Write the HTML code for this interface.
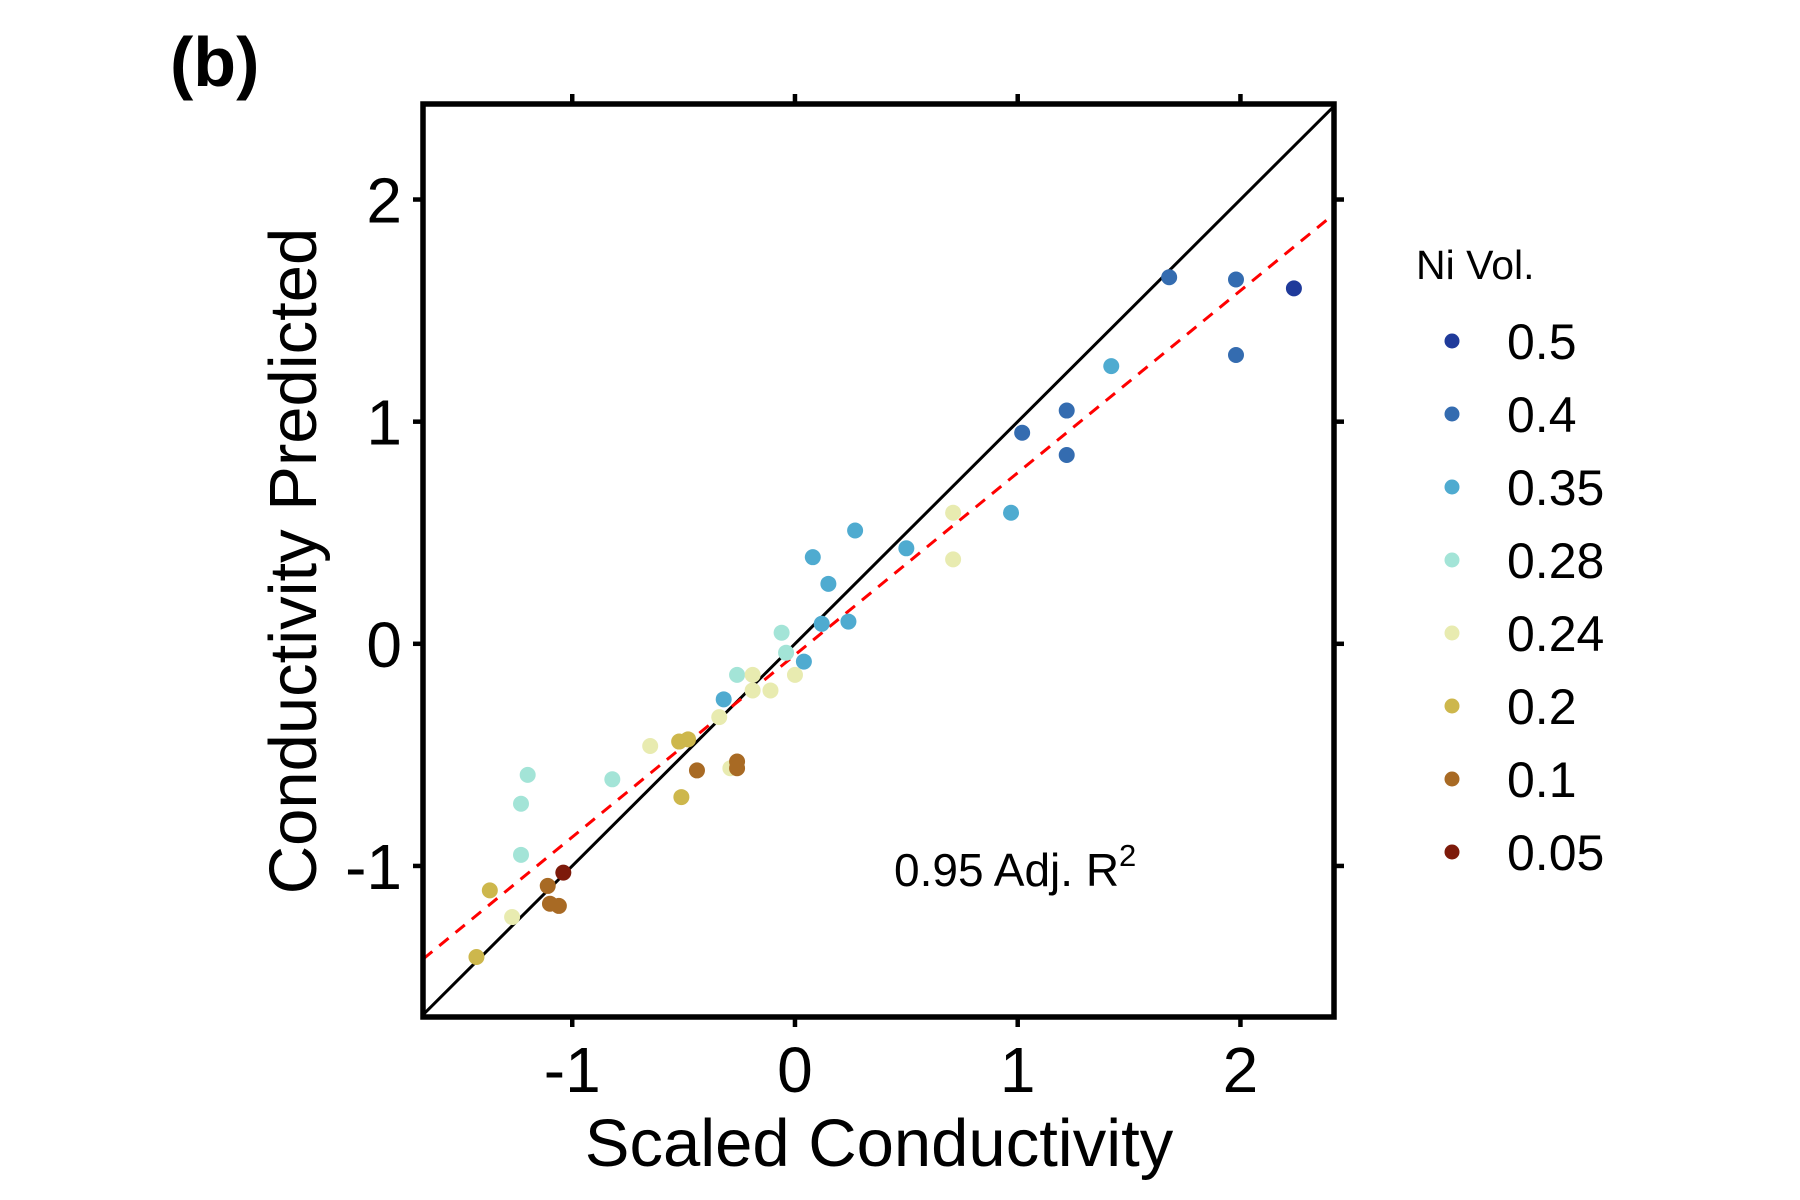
<!DOCTYPE html>
<html><head><meta charset="utf-8"><style>
html,body{margin:0;padding:0;background:#fff}
svg{display:block;font-family:"Liberation Sans",Arial,sans-serif}
</style></head><body>
<svg id="chart" width="1800" height="1200" viewBox="0 0 1800 1200">
<text x="170" y="86" font-size="70" font-weight="bold">(b)</text>
<g id="plot"></g>
<g id="legend"></g>
</svg>
<script>
const groups = ["0.5","0.4","0.35","0.28","0.24","0.2","0.1","0.05"];
const colors = ["#1f3a9a","#346cb0","#4fabd0","#a3e4d7","#e8ebb0","#cdb74c","#a86a24","#7d1a0a"];
const xs = [
 [2.24],
 [1.68,1.98,1.98,1.22,1.22,1.02],
 [1.42,0.97,0.50,0.27,0.08,0.15,0.12,0.24,0.04,-0.32],
 [-0.06,-0.04,-0.26,-0.82,-1.20,-1.23,-1.23],
 [0.71,0.71,0,-0.11,-0.19,-0.19,-0.34,-0.65,-0.29,-1.27],
 [-0.48,-0.52,-0.51,-1.37,-1.43],
 [-0.26,-0.26,-0.44,-1.11,-1.10,-1.06],
 [-1.04]
];
const ys = [
 [1.60],
 [1.65,1.64,1.30,1.05,0.85,0.95],
 [1.25,0.59,0.43,0.51,0.39,0.27,0.09,0.10,-0.08,-0.25],
 [0.05,-0.04,-0.14,-0.61,-0.59,-0.72,-0.95],
 [0.59,0.38,-0.14,-0.21,-0.14,-0.21,-0.33,-0.46,-0.56,-1.23],
 [-0.43,-0.44,-0.69,-1.11,-1.41],
 [-0.53,-0.56,-0.57,-1.09,-1.17,-1.18],
 [-1.03]
];
const xTicks = [-1,0,1,2];
const yTicks = [-1,0,1,2];
const fitSlope = 0.82, fitIntercept = -0.05;
const xDomain = [-1.67, 2.42], yDomain = [-1.68, 2.43];

const L=423,R=1334,T=104,B=1017;
const sx = v => L + (v - xDomain[0]) / (xDomain[1]-xDomain[0]) * (R-L);
const sy = v => B - (v - yDomain[0]) / (yDomain[1]-yDomain[0]) * (B-T);
const NS="http://www.w3.org/2000/svg";
function mk(tag, attrs, parent){const e=document.createElementNS(NS,tag);for(const k in attrs)e.setAttribute(k,attrs[k]);parent.appendChild(e);return e;}
const plot=document.getElementById('plot');

let lo=Math.max(xDomain[0],yDomain[0]), hi=Math.min(xDomain[1],yDomain[1]);
let idl=mk('line',{x1:sx(lo),y1:sy(lo),x2:sx(hi),y2:sy(hi),stroke:'#000','stroke-width':3},plot);


let fl=mk('line',{x1:sx(xDomain[0]),y1:sy(fitSlope*xDomain[0]+fitIntercept),x2:sx(xDomain[1]),y2:sy(fitSlope*xDomain[1]+fitIntercept),stroke:'#ff0000','stroke-width':3,'stroke-dasharray':'12 9'},plot);



groups.forEach((g,gi)=>{
  xs[gi].forEach((xv,i)=>{
    const c=mk('circle',{cx:sx(xv),cy:sy(ys[gi][i]),r:8,fill:colors[gi]},plot);
    
    
  });
});

let fr=mk('rect',{x:L,y:T,width:R-L,height:B-T,fill:'none',stroke:'#000','stroke-width':5.5},plot);



xTicks.forEach(t=>{
  const x=sx(t);
  mk('line',{x1:x,y1:B,x2:x,y2:B+10,stroke:'#000','stroke-width':4.5},plot);
  mk('line',{x1:x,y1:T,x2:x,y2:T-10,stroke:'#000','stroke-width':4.5},plot);
  const tx=mk('text',{x:x,y:1092,'font-size':64,'text-anchor':'middle'},plot);
  tx.textContent=String(t);
  
  
});
yTicks.forEach(t=>{
  const y=sy(t);
  mk('line',{x1:L,y1:y,x2:L-10,y2:y,stroke:'#000','stroke-width':4.5},plot);
  mk('line',{x1:R,y1:y,x2:R+10,y2:y,stroke:'#000','stroke-width':4.5},plot);
  const tx=mk('text',{x:402,y:y+23,'font-size':64,'text-anchor':'end'},plot);
  tx.textContent=String(t);
  
  
});

let xt=mk('text',{x:879,y:1166,'font-size':67,'text-anchor':'middle'},plot);
xt.textContent='Scaled Conductivity';


let yt=mk('text',{x:0,y:0,'font-size':67,'text-anchor':'middle',transform:'translate(316,561) rotate(-90)'},plot);
yt.textContent='Conductivity Predicted';



let an=mk('text',{x:894,y:886,'font-size':46},plot);
an.innerHTML='0.95 Adj. R<tspan dy="-20" font-size="31">2</tspan>';



const lg=document.getElementById('legend');
let lt=mk('text',{x:1416,y:279,'font-size':41},lg);
lt.textContent='Ni Vol.';


groups.forEach((g,gi)=>{
  const y=341+gi*73;
  const d=mk('circle',{cx:1452,cy:y,r:7.5,fill:colors[gi]},lg);
  
  
  const t=mk('text',{x:1507,y:y+18,'font-size':50},lg);
  t.textContent=g;
  
  
});
</script>
</body></html>
